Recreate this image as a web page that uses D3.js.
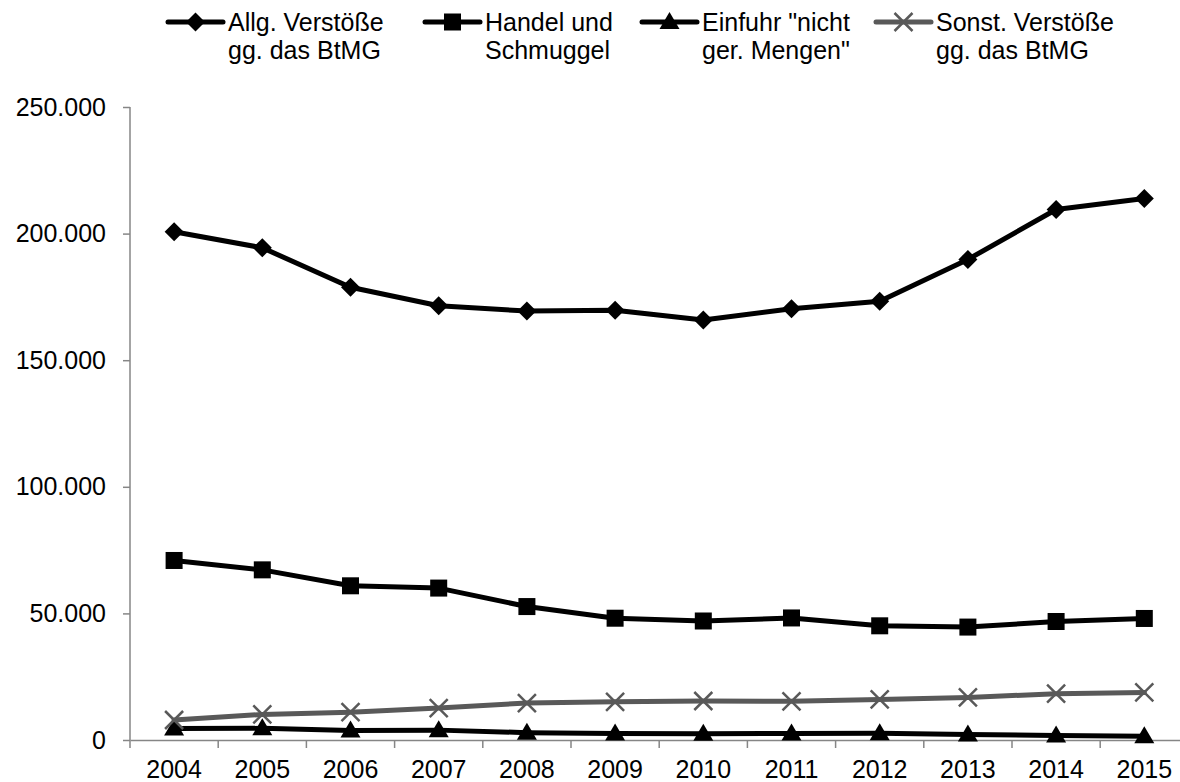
<!DOCTYPE html>
<html>
<head>
<meta charset="utf-8">
<script src="https://cdn.jsdelivr.net/npm/d3@7"></script>
<style>
  html, body { margin: 0; padding: 0; background: #fff; }
  svg { display: block; }
  text { font-family: "Liberation Sans", Arial, sans-serif; fill: #000; }
</style>
</head>
<body>
<svg id="chart" width="1180" height="782"></svg>
<script>
// ---- data ----
const years = ["2004","2005","2006","2007","2008","2009","2010","2011","2012","2013","2014","2015"];
const allgVerstoesse = [200700, 194400, 178800, 171500, 169400, 169700, 165900, 170300, 173300, 189800, 209500, 213900];
const handelSchmuggel = [70900, 67200, 60900, 60000, 52700, 48100, 47000, 48200, 45100, 44600, 46800, 48000];
const einfuhr = [4500, 4600, 3800, 3900, 2900, 2600, 2500, 2600, 2700, 2200, 1800, 1500];
const sonstVerstoesse = [7900, 10100, 11000, 12600, 14600, 15100, 15400, 15300, 16000, 16800, 18300, 18800];
const yTicks = [0, 50000, 100000, 150000, 200000, 250000];
const yTickLabels = ["0", "50.000", "100.000", "150.000", "200.000", "250.000"];
const legendLines = [
  ["Allg. Verstöße", "gg. das BtMG"],
  ["Handel und", "Schmuggel"],
  ["Einfuhr \"nicht", "ger. Mengen\""],
  ["Sonst. Verstöße", "gg. das BtMG"]
];

const series = [
  { values: allgVerstoesse, color: "#000", marker: "diamond" },
  { values: handelSchmuggel, color: "#000", marker: "square" },
  { values: einfuhr, color: "#000", marker: "triangle" },
  { values: sonstVerstoesse, color: "#595959", marker: "x" }
];

const svg = d3.select("#chart");
const FONT = 25;
const axisColor = "#868686";

const x = d3.scaleBand().domain(years).range([130, 130 + 12 * 88.2]).padding(0);
const y = d3.scaleLinear().domain([0, 250000]).range([740, 107]);
const cx = d => x(d) + x.bandwidth() / 2;

// y axis
const yAxis = svg.append("g").attr("transform", "translate(130,0)")
  .call(d3.axisLeft(y).tickValues(yTicks).tickSize(7).tickFormat((d, i) => yTickLabels[i]));
yAxis.select(".domain").attr("stroke", axisColor).attr("stroke-width", 1.5)
  .attr("d", "M0," + y(250000) + "V" + y(0));
yAxis.selectAll(".tick line").attr("stroke", axisColor).attr("stroke-width", 1.5);
yAxis.selectAll(".tick text").attr("x", -24).attr("font-size", FONT)
  .attr("font-family", "Liberation Sans, Arial, sans-serif").attr("fill", "#000");

// x axis
const xAxis = svg.append("g").attr("transform", "translate(0,740)")
  .call(d3.axisBottom(x).tickSize(0).tickFormat(d => d));
xAxis.select(".domain").attr("stroke", axisColor).attr("stroke-width", 1.5);
xAxis.selectAll(".tick text").attr("y", 20).attr("font-size", FONT)
  .attr("font-family", "Liberation Sans, Arial, sans-serif").attr("fill", "#000");
// boundary tick marks between categories
xAxis.selectAll(".bt").data(years).enter().append("line")
  .attr("x1", d => x(d)).attr("x2", d => x(d))
  .attr("y1", 0).attr("y2", 8).attr("stroke", axisColor).attr("stroke-width", 1.5);

function drawMarker(g, type, color) {
  if (type === "diamond") {
    g.append("path").attr("d", "M0,-9.5L9.5,0L0,9.5L-9.5,0Z").attr("fill", color);
  } else if (type === "square") {
    g.append("rect").attr("x", -8.5).attr("y", -8.5).attr("width", 17).attr("height", 17).attr("fill", color);
  } else if (type === "triangle") {
    g.append("path").attr("d", "M0,-10L10,7L-10,7Z").attr("fill", color);
  } else if (type === "x") {
    g.append("path").attr("d", "M-9,-9L9,9M-9,9L9,-9").attr("stroke", color).attr("stroke-width", 2.5).attr("fill", "none");
  }
}

const line = d3.line().x((d, i) => cx(years[i])).y(d => y(d));

series.forEach(s => {
  svg.append("path").datum(s.values).attr("d", line)
    .attr("fill", "none").attr("stroke", s.color).attr("stroke-width", 5)
    .attr("stroke-linejoin", "round").attr("stroke-linecap", "round");
});
series.forEach(s => {
  s.values.forEach((v, i) => {
    const g = svg.append("g").attr("transform", `translate(${cx(years[i])},${y(v)})`);
    drawMarker(g, s.marker, s.color);
  });
});

// legend
const legendX = [168, 425, 642, 876];
legendLines.forEach((lines, i) => {
  const s = series[i];
  const lx = legendX[i];
  const g = svg.append("g");
  g.append("line").attr("x1", lx).attr("x2", lx + 55).attr("y1", 22).attr("y2", 22)
    .attr("stroke", s.color).attr("stroke-width", 5).attr("stroke-linecap", "round");
  const mg = g.append("g").attr("transform", `translate(${lx + 27.5},22)`);
  drawMarker(mg, s.marker, s.color);
  lines.forEach((t, j) => {
    g.append("text").attr("x", lx + 60).attr("y", 31 + j * 28).attr("font-size", FONT).text(t);
  });
});
</script>
</body>
</html>
